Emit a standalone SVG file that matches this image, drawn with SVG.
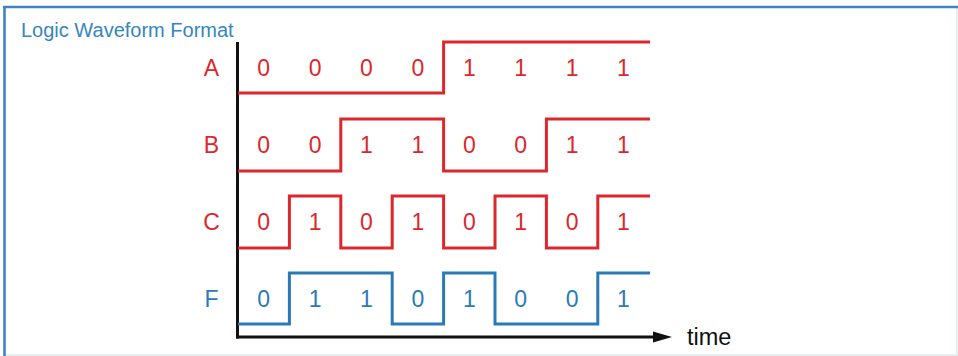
<svg xmlns="http://www.w3.org/2000/svg" width="958" height="356" viewBox="0 0 958 356">
<style>
  .frame{stroke:#3f82c6;stroke-width:2.6;fill:none}
  .faint{stroke:#dfeaea;stroke-width:1.5;fill:none}
  .title{font-family:"Liberation Sans",Arial,sans-serif;font-size:20px;fill:#3586c0}
  .lbl{font-family:"Liberation Sans",Arial,sans-serif;font-size:23px;text-anchor:middle}
  .red{fill:#dc272d}
  .blue{fill:#2b7ab8}
  .wr{stroke:#dc272d;stroke-width:3;fill:none;stroke-linejoin:miter}
  .wb{stroke:#2b7ab8;stroke-width:3;fill:none;stroke-linejoin:miter}
  .axis{stroke:#111;stroke-width:3;fill:none}
  .time{font-family:"Liberation Sans",Arial,sans-serif;font-size:23.5px;fill:#111}
</style>
<rect width="958" height="356" fill="#fff"/>
<g id="frame">
  <line class="faint" x1="3" y1="355" x2="958" y2="355"/>
  <line class="faint" x1="957" y1="7" x2="957" y2="355"/>
  <line class="frame" x1="3" y1="7" x2="958" y2="7"/>
  <line class="frame" x1="4.5" y1="6" x2="4.5" y2="356"/>
</g>
<text class="title" x="21" y="36.5">Logic Waveform Format</text>
<g id="connectors">
  <line class="axis" x1="237.5" y1="42" x2="237.5" y2="338.5"/>
  <line class="axis" x1="236" y1="337" x2="656" y2="337"/>
  <polygon points="653,331.5 672,337 653,342.5" fill="#111"/>
</g>
<text class="time" x="687" y="345">time</text>
<g id="signal-A">
  <text class="lbl red" x="211.5" y="76">A</text>
  <path class="wr" d="M238,93 H443.6 V42 H650"/>
  <g class="lbl red">
    <text x="263.7" y="76">0</text><text x="315.1" y="76">0</text><text x="366.5" y="76">0</text><text x="417.9" y="76">0</text>
    <text x="469.3" y="76">1</text><text x="520.7" y="76">1</text><text x="572.1" y="76">1</text><text x="623.5" y="76">1</text>
  </g>
</g>
<g id="signal-B">
  <text class="lbl red" x="211.5" y="153">B</text>
  <path class="wr" d="M238,171 H340.8 V119 H443.6 V171 H546.4 V119 H650"/>
  <g class="lbl red">
    <text x="263.7" y="153">0</text><text x="315.1" y="153">0</text><text x="366.5" y="153">1</text><text x="417.9" y="153">1</text>
    <text x="469.3" y="153">0</text><text x="520.7" y="153">0</text><text x="572.1" y="153">1</text><text x="623.5" y="153">1</text>
  </g>
</g>
<g id="signal-C">
  <text class="lbl red" x="211.5" y="229.5">C</text>
  <path class="wr" d="M238,248 H289.4 V196 H340.8 V248 H392.2 V196 H443.6 V248 H495 V196 H546.4 V248 H597.8 V196 H650"/>
  <g class="lbl red">
    <text x="263.7" y="229.5">0</text><text x="315.1" y="229.5">1</text><text x="366.5" y="229.5">0</text><text x="417.9" y="229.5">1</text>
    <text x="469.3" y="229.5">0</text><text x="520.7" y="229.5">1</text><text x="572.1" y="229.5">0</text><text x="623.5" y="229.5">1</text>
  </g>
</g>
<g id="signal-F">
  <text class="lbl blue" x="211.5" y="306.5">F</text>
  <path class="wb" d="M238,324 H289.4 V273 H392.2 V324 H443.6 V273 H495 V324 H597.8 V273 H650"/>
  <g class="lbl blue">
    <text x="263.7" y="306.5">0</text><text x="315.1" y="306.5">1</text><text x="366.5" y="306.5">1</text><text x="417.9" y="306.5">0</text>
    <text x="469.3" y="306.5">1</text><text x="520.7" y="306.5">0</text><text x="572.1" y="306.5">0</text><text x="623.5" y="306.5">1</text>
  </g>
</g>
</svg>
